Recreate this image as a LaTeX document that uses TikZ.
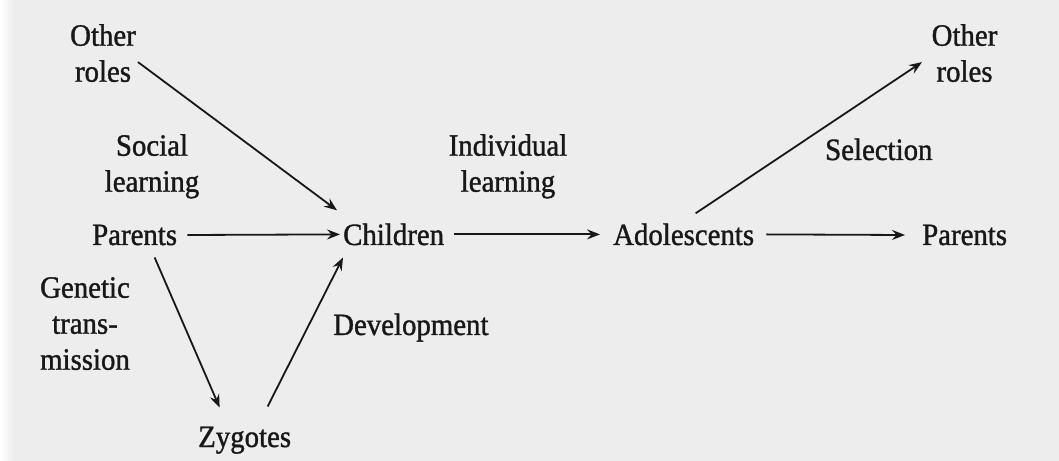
\documentclass[tikz,border=0pt]{standalone}
\usepackage{fontspec}
\setmainfont{Liberation Serif}[FakeStretch=0.93, FakeBold=1.2]
\usetikzlibrary{arrows.meta,calc}
\definecolor{paper}{RGB}{237,237,237}
\definecolor{ink}{RGB}{24,24,24}
\tikzset{
  lbl/.style={inner sep=0pt, text=ink, font=\fontsize{31bp}{36bp}\selectfont, align=center},
  arr/.style={draw=ink, line width=1.8bp, -{Stealth[length=13bp,width=10bp,inset=4.5bp]}}
}
\begin{document}
\begin{tikzpicture}[x=1bp,y=-1bp]
\useasboundingbox (0,0) rectangle (1059,461);
\fill[paper] (0,0) rectangle (1059,461);
\shade[left color=white, right color=paper] (0,0) rectangle (14,461);

% main nodes
\node[lbl, anchor=north] (orl) at (103,24) {Other\\roles};
\node[lbl, anchor=base west] (pl) at (92,245) {Parents};
\node[lbl, anchor=base west] (ch) at (343,245) {Children};
\node[lbl, anchor=base west] (ad) at (613,245) {Adolescents};
\node[lbl, anchor=base west] (pr) at (922,245) {Parents};
\node[lbl, anchor=north] (orr) at (964.5,24) {Other\\roles};
\node[lbl, anchor=base west] (zy) at (198,447) {Zygotes};

% process labels
\node[lbl, anchor=north] (soc) at (152,134) {Social\\learning};
\node[lbl, anchor=north] (ind) at (508,134) {Individual\\learning};
\node[lbl, anchor=north] (gen) at (85,277) {Genetic\\trans-\\mission};
\node[lbl, anchor=base west] (dev) at (333,335) {Development};
\node[lbl, anchor=base west] (sel) at (825,160) {Selection};

% connectors
\draw[arr] ($(orl.east)+(2,9)$) -- ($(ch.north west)+(-6,-13)$);
\draw[arr] ($(pl.east)+(10,0)$) -- ($(ch.west)+(-3,0)$);
\draw[arr] ($(pl.south)+(20,12)$) -- ($(zy.north)+(-25,-19)$);
\draw[arr] ($(zy.north)+(23,-20)$) -- ($(ch.south west)+(0,12)$);
\draw[arr] ($(ch.east)+(10,0)$) -- ($(ad.west)+(-13,0)$);
\draw[arr] ($(ad.north)+(12,-10)$) -- ($(orr.west)+(-9.5,9)$);
\draw[arr] ($(ad.east)+(12,0)$) -- ($(pr.west)+(-17,0)$);
\end{tikzpicture}
\end{document}
